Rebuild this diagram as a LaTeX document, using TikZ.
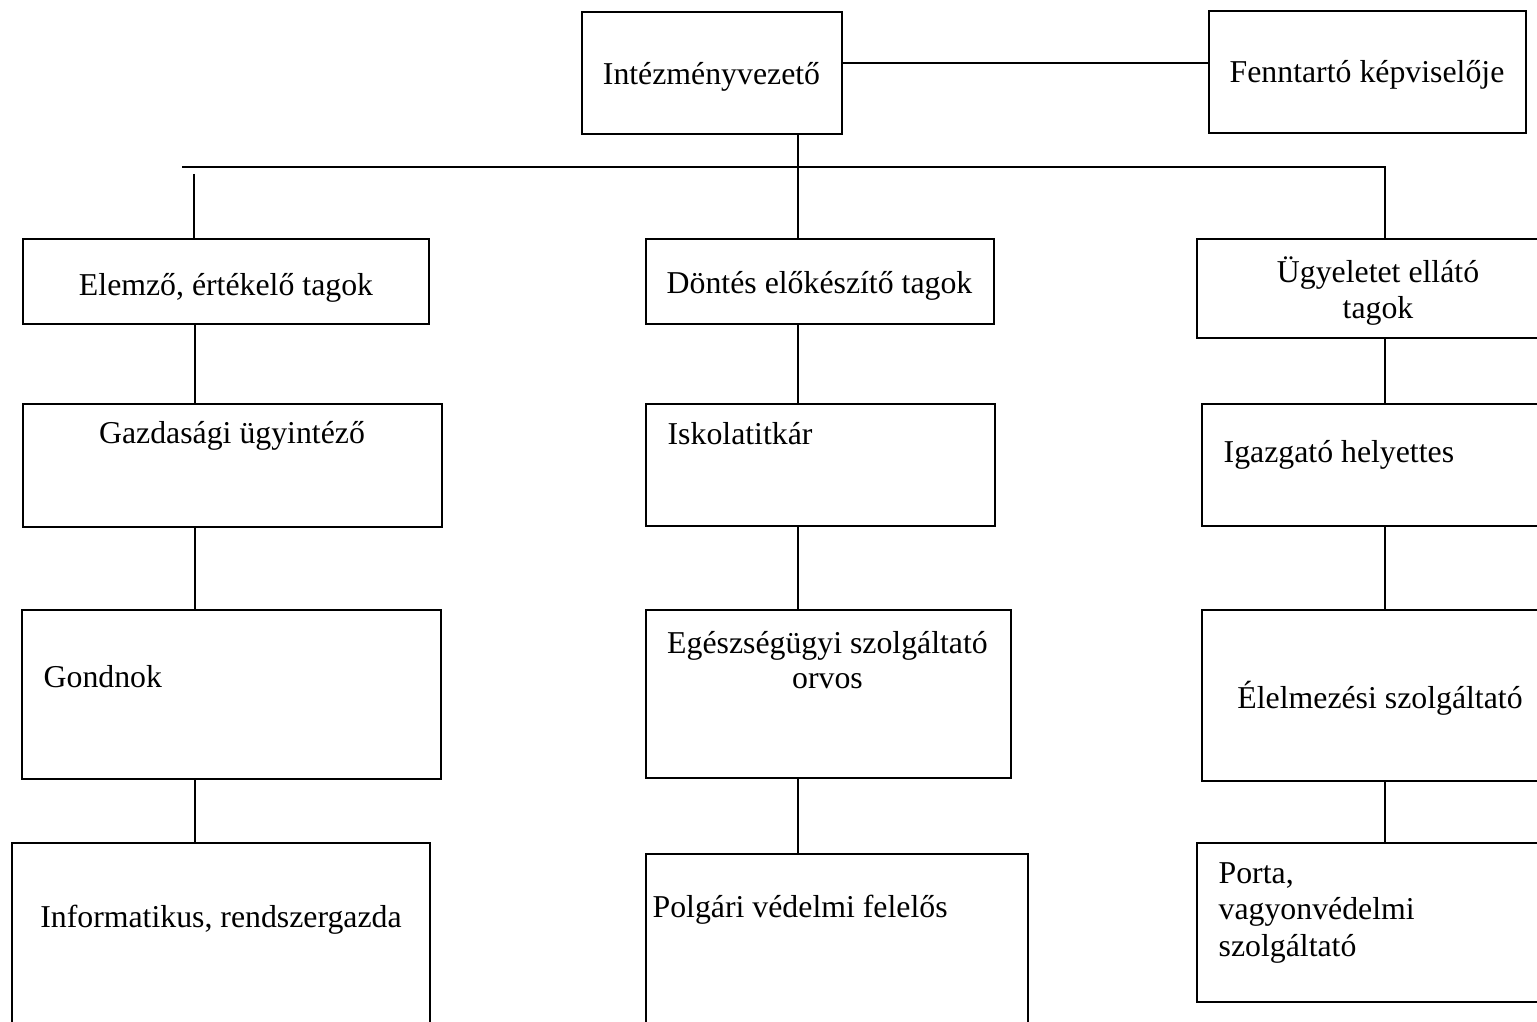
\documentclass[tikz,border=0pt]{standalone}
\usepackage{fontspec}
\setmainfont{Liberation Serif}
\begin{document}
\begin{tikzpicture}[x=1pt,y=-1pt, line width=1.3pt,
  box/.style={draw, rectangle, inner sep=0pt, line width=1.3pt},
  txt/.style={inner sep=0pt, font=\fontsize{31.8}{36.5}\selectfont}]
\useasboundingbox (0,0) rectangle (1537,1022);
\clip (0,0) rectangle (1537,1022);
% boxes
\node[box, minimum width=260pt, minimum height=122pt] (iv)  at (712,73) {};
\node[box, minimum width=317pt, minimum height=122pt] (fk)  at (1367.5,72) {};
\node[box, minimum width=406pt, minimum height=85pt]  (el)  at (226,281.5) {};
\node[box, minimum width=348pt, minimum height=85pt]  (dt)  at (820,281.5) {};
\node[box, minimum width=353pt, minimum height=99pt]  (ug)  at (1373.5,288.5) {};
\node[box, minimum width=419pt, minimum height=123pt] (gz)  at (232.5,465.5) {};
\node[box, minimum width=419pt, minimum height=169pt] (gd)  at (231.5,694.5) {};
\node[box, minimum width=418pt, minimum height=197pt] (inf) at (221,941.5) {};
\node[box, minimum width=349pt, minimum height=122pt] (isk) at (820.5,465) {};
\node[box, minimum width=365pt, minimum height=168pt] (eg)  at (828.5,694) {};
\node[box, minimum width=382pt, minimum height=186pt] (pv)  at (837,947) {};
\node[box, minimum width=348pt, minimum height=122pt] (ig)  at (1376,465) {};
\node[box, minimum width=348pt, minimum height=171pt] (elm) at (1376,695.5) {};
\node[box, minimum width=353pt, minimum height=159pt] (po)  at (1373.5,922.5) {};
% texts
\node[txt, anchor=base] (t-iv) at (711.5,85) {Intézményvezető};
\node[txt, anchor=base] (t-fk) at (1367,83) {Fenntartó képviselője};
\node[txt, anchor=base] (t-el) at (226,295) {Elemző, értékelő tagok};
\node[txt, anchor=base] (t-dt) at (819.5,293) {Döntés előkészítő tagok};
\node[txt, anchor=base] (t-ug1) at (1378,282) {Ügyeletet ellátó};
\node[txt, anchor=base] (t-ug2) at (1378,318) {tagok};
\node[txt, anchor=base] (t-gz) at (232,443) {Gazdasági ügyintéző};
\node[txt, anchor=base west] (t-gd) at (43,687) {Gondnok};
\node[txt, anchor=base] (t-inf) at (221,927) {Informatikus, rendszergazda};
\node[txt, anchor=base west] (t-isk) at (667,444) {Iskolatitkár};
\node[txt, anchor=base] (t-eg1) at (827.5,653) {Egészségügyi szolgáltató};
\node[txt, anchor=base] (t-eg2) at (827.5,688) {orvos};
\node[txt, anchor=base west] (t-pv) at (652,917) {Polgári védelmi felelős};
\node[txt, anchor=base west] (t-ig) at (1223,462) {Igazgató helyettes};
\node[txt, anchor=base] (t-elm) at (1380,708) {Élelmezési szolgáltató};
\node[txt, anchor=base west] (t-po1) at (1218,883) {Porta,};
\node[txt, anchor=base west] (t-po2) at (1218,919.5) {vagyonvédelmi};
\node[txt, anchor=base west] (t-po3) at (1218,956) {szolgáltató};
% connectors
\coordinate (busL) at (182,167);
\coordinate (busR) at (1385,167);
\coordinate (elTop) at (194,174);
\draw (iv.east |- 0,63) -- (fk.west |- 0,63);
\draw (iv.south -| 798,0) -- (dt.north -| 798,0);
\draw (busL) -- (busR) -- (ug.north -| busR);
\draw (elTop) -- (el.north -| elTop);
\draw (el.south -| 195,0) -- (gz.north -| 195,0);
\draw (gz.south -| 195,0) -- (gd.north -| 195,0);
\draw (gd.south -| 195,0) -- (inf.north -| 195,0);
\draw (dt.south -| 798,0) -- (isk.north -| 798,0);
\draw (isk.south -| 798,0) -- (eg.north -| 798,0);
\draw (eg.south -| 798,0) -- (pv.north -| 798,0);
\draw (ug.south -| 1385,0) -- (ig.north -| 1385,0);
\draw (ig.south -| 1385,0) -- (elm.north -| 1385,0);
\draw (elm.south -| 1385,0) -- (po.north -| 1385,0);
\end{tikzpicture}
\end{document}
